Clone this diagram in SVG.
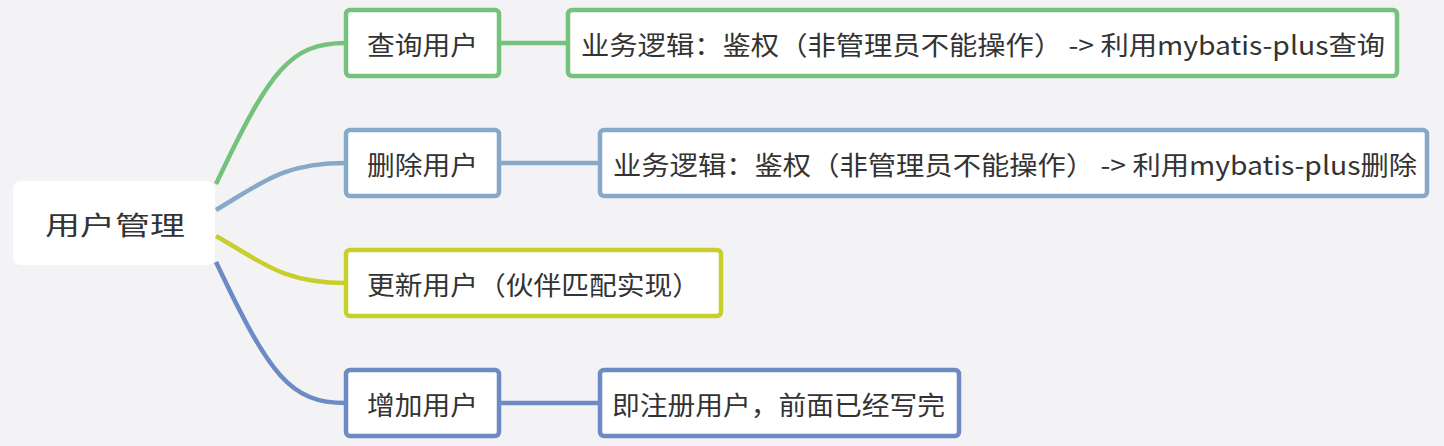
<svg xmlns="http://www.w3.org/2000/svg" width="1444" height="446" viewBox="0 0 1444 446">
<style>
text{font-family:"Noto Sans CJK SC","Noto Sans",sans-serif;fill:#333;dominant-baseline:central;font-size:26px}
.b{fill:#fff;stroke-width:4.5}
.g{stroke:#74c27c}.s{stroke:#86a9c9}.y{stroke:#c7cf2c}.u{stroke:#6c8ac4}
.c path{fill:none;stroke-width:4.5}
</style>
<rect width="1444" height="446" fill="#f3f3f6"/>
<g class="c">
<path class="g" d="M216,184 C270,70 290,43 346,43 M500,43 L568,43"/>
<path class="s" d="M216,210 C262,183 282,163 346,163 M500,163 L600,163"/>
<path class="y" d="M216,236 C262,262 282,283 346,283"/>
<path class="u" d="M216,262 C270,376 290,403 346,403 M500,403 L600,403"/>
</g>
<g id="root"><rect x="13" y="181" width="202" height="84" rx="8" fill="#fff"/><text x="45" y="223" font-size="34" textLength="140" lengthAdjust="spacingAndGlyphs">用户管理</text></g>
<g id="n1"><rect class="b g" x="346" y="10" width="153" height="66" rx="4"/><text x="367" y="43" textLength="111" lengthAdjust="spacingAndGlyphs">查询用户</text></g>
<g id="n1d"><rect class="b g" x="568" y="10" width="829" height="66" rx="4"/><text x="581" y="43" textLength="804" lengthAdjust="spacingAndGlyphs">业务逻辑：鉴权（非管理员不能操作） -&gt; 利用mybatis-plus查询</text></g>
<g id="n2"><rect class="b s" x="346" y="130" width="153" height="66" rx="4"/><text x="367" y="163" textLength="111" lengthAdjust="spacingAndGlyphs">删除用户</text></g>
<g id="n2d"><rect class="b s" x="600" y="130" width="827" height="66" rx="4"/><text x="613" y="163" textLength="804" lengthAdjust="spacingAndGlyphs">业务逻辑：鉴权（非管理员不能操作） -&gt; 利用mybatis-plus删除</text></g>
<g id="n3"><rect class="b y" x="346" y="250" width="375" height="66" rx="4"/><text x="367" y="283" textLength="333" lengthAdjust="spacingAndGlyphs">更新用户（伙伴匹配实现）</text></g>
<g id="n4"><rect class="b u" x="346" y="370" width="153" height="66" rx="4"/><text x="367" y="403" textLength="111" lengthAdjust="spacingAndGlyphs">增加用户</text></g>
<g id="n4d"><rect class="b u" x="600" y="370" width="359" height="66" rx="4"/><text x="612" y="403" textLength="333" lengthAdjust="spacingAndGlyphs">即注册用户，前面已经写完</text></g>
</svg>
